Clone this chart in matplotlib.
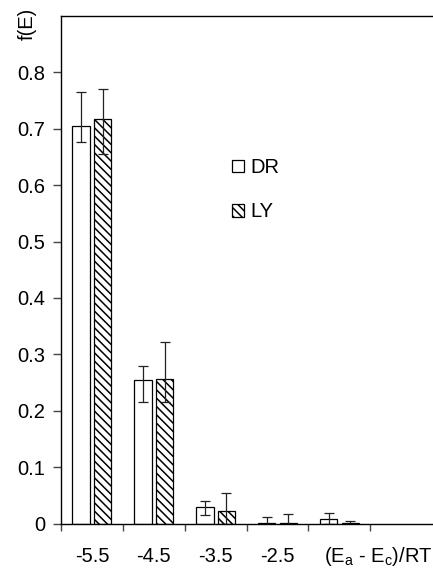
import numpy as np
from matplotlib import pyplot as plt
from matplotlib.patches import Patch

plt.rcParams['font.family'] = ['Liberation Sans', 'DejaVu Sans']
plt.rcParams['mathtext.fontset'] = 'custom'
plt.rcParams['mathtext.rm'] = 'Liberation Sans'
plt.rcParams['mathtext.it'] = 'Liberation Sans'
plt.rcParams['mathtext.default'] = 'regular'
plt.rcParams['hatch.linewidth'] = 1.1

tick_labels = ['-5.5', '-4.5', '-3.5', '-2.5', '', '']
dr_values = [0.705, 0.254, 0.029, 0.002, 0.008, 0.0]
dr_err_low = [0.029, 0.038, 0.014, 0.002, 0.008, 0.0]
dr_err_high = [0.060, 0.026, 0.012, 0.010, 0.011, 0.0]
ly_values = [0.718, 0.256, 0.022, 0.002, 0.001, 0.0]
ly_err_low = [0.063, 0.040, 0.022, 0.002, 0.001, 0.0]
ly_err_high = [0.053, 0.066, 0.033, 0.015, 0.004, 0.0]

FS = 14.5


def main():
    fig = plt.figure(figsize=(4.33, 5.70), dpi=100)
    ax = fig.add_axes([0.141, 0.0812, 0.857, 0.891])

    x = np.arange(len(tick_labels))
    w = 0.28
    off = 0.175
    has_bar = np.array([v > 0 for v in dr_values])
    xs = x[has_bar]
    dr = np.array(dr_values)[has_bar]
    ly = np.array(ly_values)[has_bar]

    ax.bar(xs - off, dr, w, color='white', edgecolor='black', linewidth=0.9)
    ax.bar(xs + off, ly, w, color='white', edgecolor='black', linewidth=0.9,
           hatch='\\\\\\\\')
    ax.errorbar(xs - off, dr,
                yerr=[np.array(dr_err_low)[has_bar], np.array(dr_err_high)[has_bar]],
                fmt='none', ecolor='#222222', elinewidth=0.9, capsize=3.3, capthick=0.9)
    ax.errorbar(xs + off, ly,
                yerr=[np.array(ly_err_low)[has_bar], np.array(ly_err_high)[has_bar]],
                fmt='none', ecolor='#222222', elinewidth=0.9, capsize=3.3, capthick=0.9)

    ax.set_xlim(-0.5, len(tick_labels) - 0.5)
    ax.set_ylim(0, 0.9)
    ax.set_yticks([0, 0.1, 0.2, 0.3, 0.4, 0.5, 0.6, 0.7, 0.8])
    ax.set_yticklabels(['0', '0.1', '0.2', '0.3', '0.4', '0.5', '0.6', '0.7', '0.8'])
    ax.set_xticks(x)
    ax.set_xticklabels(tick_labels)
    ax.set_xticks(np.arange(len(tick_labels)) - 0.5, minor=True)
    ax.tick_params(axis='x', which='major', length=0, pad=17, labelsize=FS)
    ax.tick_params(axis='x', which='minor', length=5, width=1, color='#444444')
    ax.tick_params(axis='y', length=5.5, width=1, color='#444444', labelsize=FS, pad=6)
    ax.spines['right'].set_visible(False)
    for s in ['left', 'top', 'bottom']:
        ax.spines[s].set_linewidth(1)

    fig.text(0.063, 0.958, 'f(E)', rotation=90, ha='center', va='center', fontsize=FS)
    fig.text(0.873, 0.023, '(E$_a$ - E$_c$)/RT', ha='center', va='center', fontsize=FS)

    handles = [Patch(facecolor='white', edgecolor='black', linewidth=0.9),
               Patch(facecolor='white', edgecolor='black', linewidth=0.9, hatch='\\\\\\\\')]
    ax.legend(handles, ['DR', 'LY'], loc='upper left', bbox_to_anchor=(0.46, 0.72),
              frameon=False, fontsize=FS, handlelength=0.6, handleheight=0.6,
              handletextpad=0.3, labelspacing=1.25, borderpad=0, borderaxespad=0)

    fig.savefig('out.png', dpi=100)


if __name__ == "__main__":
    main()
